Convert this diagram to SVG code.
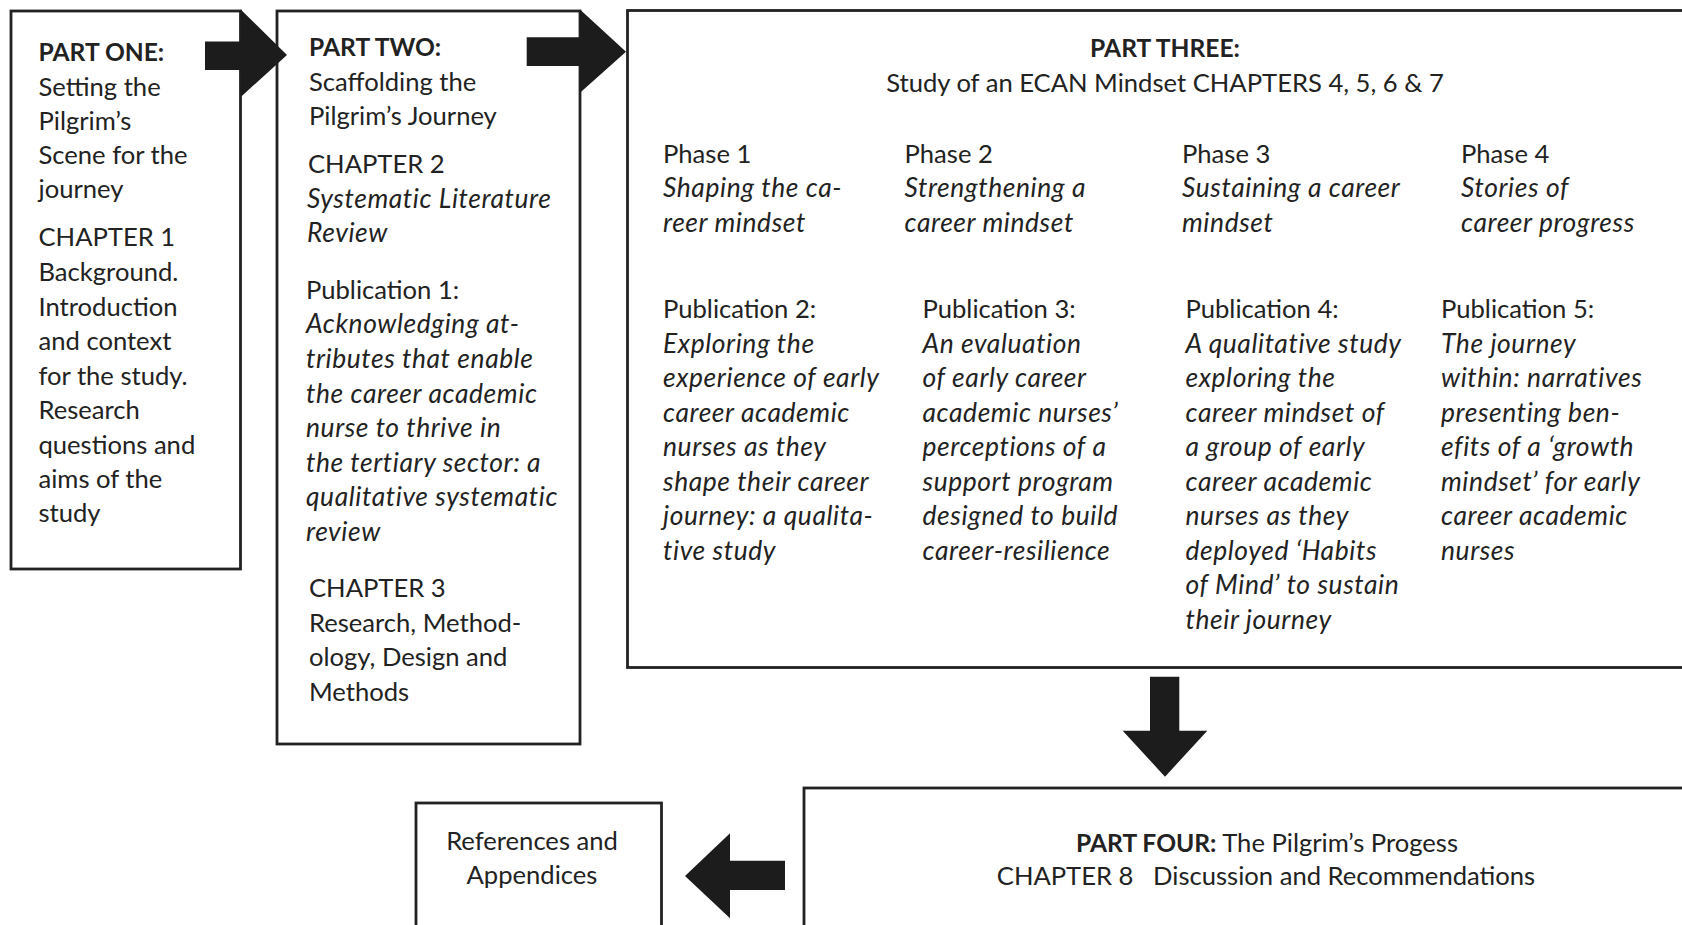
<svg xmlns="http://www.w3.org/2000/svg" width="1682" height="925" viewBox="0 0 1682 925">
<style>
.box{fill:#fff;stroke:#222;stroke-width:2.8}
.arr{fill:#1c1c1c}
text{font-family:Lato,"Open Sans","Liberation Sans",sans-serif;font-size:25.6px;fill:#222}
.b{font-weight:bold;font-size:24.6px}
.i{font-style:italic;font-size:26.4px;letter-spacing:0.6px}
.c{text-anchor:middle}
</style>
<rect width="1682" height="925" fill="#fff"/>
<g id="part1">
<rect class="box" x="11" y="11" width="229.5" height="558"/>
<text x="38.5" y="61" class="b">PART ONE:</text>
<text x="38.5" y="95.5">Setting the</text>
<text x="38.5" y="130">Pilgrim’s</text>
<text x="38.5" y="164">Scene for the</text>
<text x="38.5" y="198">journey</text>
<text x="38.5" y="246">CHAPTER 1</text>
<text x="38.5" y="281">Background.</text>
<text x="38.5" y="315.5">Introduction</text>
<text x="38.5" y="350">and context</text>
<text x="38.5" y="384.5">for the study.</text>
<text x="38.5" y="419">Research</text>
<text x="38.5" y="453.5">questions and</text>
<text x="38.5" y="488">aims of the</text>
<text x="38.5" y="522">study</text>
</g>
<g id="part2">
<rect class="box" x="277" y="11" width="303" height="733"/>
<text x="309" y="56" class="b">PART TWO:</text>
<text x="309" y="90.5">Scaffolding the</text>
<text x="309" y="125">Pilgrim’s Journey</text>
<text x="308" y="173">CHAPTER 2</text>
<text x="307" y="207.5" class="i">Systematic Literature</text>
<text x="307" y="241.5" class="i">Review</text>
<text x="306" y="299">Publication 1:</text>
<text x="306" y="333" class="i">Acknowledging at-</text>
<text x="306" y="368" class="i">tributes that enable</text>
<text x="306" y="402.5" class="i">the career academic</text>
<text x="306" y="437" class="i">nurse to thrive in</text>
<text x="306" y="471.5" class="i">the tertiary sector: a</text>
<text x="306" y="506" class="i">qualitative systematic</text>
<text x="306" y="540.5" class="i">review</text>
<text x="309" y="597">CHAPTER 3</text>
<text x="309" y="631.5">Research, Method-</text>
<text x="309" y="666">ology, Design and</text>
<text x="309" y="700.5">Methods</text>
</g>
<g id="part3">
<rect class="box" x="627.5" y="10.5" width="1070" height="657"/>
<text x="1165" y="57" class="b c">PART THREE:</text>
<text x="1165" y="91.5" class="c">Study of an ECAN Mindset CHAPTERS 4, 5, 6 &amp; 7</text>
<text x="663" y="163">Phase 1</text>
<text x="663" y="197" class="i">Shaping the ca-</text>
<text x="663" y="231.5" class="i">reer mindset</text>
<text x="904.5" y="163">Phase 2</text>
<text x="904.5" y="197" class="i">Strengthening a</text>
<text x="904.5" y="231.5" class="i">career mindset</text>
<text x="1182" y="163">Phase 3</text>
<text x="1182" y="197" class="i">Sustaining a career</text>
<text x="1182" y="231.5" class="i">mindset</text>
<text x="1461" y="163">Phase 4</text>
<text x="1461" y="197" class="i">Stories of</text>
<text x="1461" y="231.5" class="i">career progress</text>
<text x="663" y="318">Publication 2:</text>
<text x="663" y="352.5" class="i">Exploring the</text>
<text x="663" y="387" class="i">experience of early</text>
<text x="663" y="421.5" class="i">career academic</text>
<text x="663" y="456" class="i">nurses as they</text>
<text x="663" y="490.5" class="i">shape their career</text>
<text x="663" y="525" class="i">journey: a qualita-</text>
<text x="663" y="559.5" class="i">tive study</text>
<text x="922.5" y="318">Publication 3:</text>
<text x="922.5" y="352.5" class="i">An evaluation</text>
<text x="922.5" y="387" class="i">of early career</text>
<text x="922.5" y="421.5" class="i">academic nurses’</text>
<text x="922.5" y="456" class="i">perceptions of a</text>
<text x="922.5" y="490.5" class="i">support program</text>
<text x="922.5" y="525" class="i">designed to build</text>
<text x="922.5" y="559.5" class="i">career-resilience</text>
<text x="1185.5" y="318">Publication 4:</text>
<text x="1185.5" y="352.5" class="i">A qualitative study</text>
<text x="1185.5" y="387" class="i">exploring the</text>
<text x="1185.5" y="421.5" class="i">career mindset of</text>
<text x="1185.5" y="456" class="i">a group of early</text>
<text x="1185.5" y="490.5" class="i">career academic</text>
<text x="1185.5" y="525" class="i">nurses as they</text>
<text x="1185.5" y="559.5" class="i">deployed ‘Habits</text>
<text x="1185.5" y="594" class="i">of Mind’ to sustain</text>
<text x="1185.5" y="628.5" class="i">their journey</text>
<text x="1441" y="318">Publication 5:</text>
<text x="1441" y="352.5" class="i">The journey</text>
<text x="1441" y="387" class="i">within: narratives</text>
<text x="1441" y="421.5" class="i">presenting ben-</text>
<text x="1441" y="456" class="i">efits of a ‘growth</text>
<text x="1441" y="490.5" class="i">mindset’ for early</text>
<text x="1441" y="525" class="i">career academic</text>
<text x="1441" y="559.5" class="i">nurses</text>
</g>
<g id="part4">
<rect class="box" x="804" y="788" width="900" height="160"/>
<text x="1267" y="851.5" class="c"><tspan class="b">PART FOUR:</tspan> The Pilgrim’s Progess</text>
<text x="1266" y="885" class="c" xml:space="preserve">CHAPTER 8   Discussion and Recommendations</text>
</g>
<g id="references">
<rect class="box" x="416" y="803" width="245.5" height="150"/>
<text x="532" y="850" class="c">References and</text>
<text x="532" y="884" class="c">Appendices</text>
</g>
<g id="connectors">
<polygon class="arr" points="205,41.5 240.7,41.5 240.7,9.5 287,55 240.7,97 240.7,70 205,70"/>
<polygon class="arr" points="526.7,37.3 580,37.3 580,9.5 626,51.7 580,92.7 580,66 526.7,66"/>
<polygon class="arr" points="1150,676.7 1179.3,676.7 1179.3,730.7 1207.3,730.7 1165,776.7 1122.7,730.7 1150,730.7"/>
<polygon class="arr" points="785,860.7 785,890 730,890 730,918.3 685,876 730,833.3 730,860.7"/>
</g>
</svg>
